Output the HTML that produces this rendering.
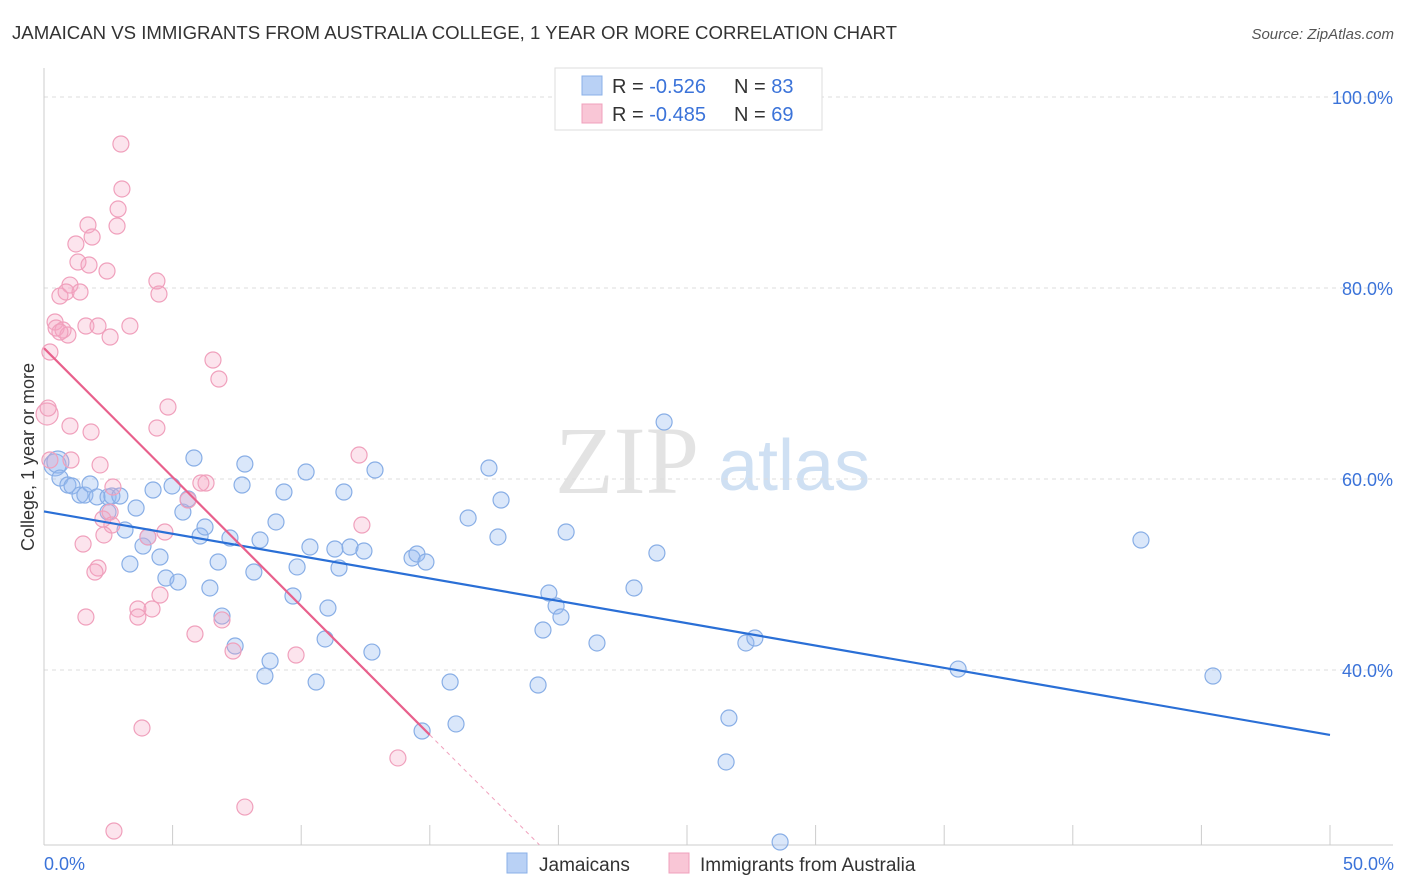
<!DOCTYPE html>
<html><head><meta charset="utf-8"><style>
body{margin:0;background:#fff;font-family:"Liberation Sans",sans-serif;}
svg{display:block}
</style></head><body>
<svg id="chart" width="1406" height="892" xmlns="http://www.w3.org/2000/svg">
<text x="12" y="39" font-size="18" fill="#333" textLength="885" lengthAdjust="spacingAndGlyphs">JAMAICAN VS IMMIGRANTS FROM AUSTRALIA COLLEGE, 1 YEAR OR MORE CORRELATION CHART</text>
<text x="1394" y="39" font-size="15" fill="#555" font-style="italic" text-anchor="end">Source: ZipAtlas.com</text>
<g>
<text x="555" y="493" font-size="96" font-family="Liberation Serif,serif" fill="#e3e3e3">ZIP</text>
<text x="718" y="490" font-size="72" fill="#cfe0f3">atlas</text>
</g>
<g id="grid"></g>
<line x1="44" y1="68" x2="44" y2="845" stroke="#ccc"/>
<line x1="44" y1="845" x2="1393" y2="845" stroke="#ccc"/>
<text transform="translate(34,457) rotate(-90)" font-size="18" fill="#333" text-anchor="middle">College, 1 year or more</text>
<text x="44" y="870" font-size="18" fill="#3b73d9">0.0%</text>
<text x="1394" y="870" font-size="18" fill="#3b73d9" text-anchor="end">50.0%</text>
<g id="pts"></g>
<g id="lines"></g>
<g>
<rect x="555" y="68" width="267" height="62" fill="#fff" stroke="#ddd"/>
<rect x="582" y="76" width="20" height="19" fill="#b9d1f5" stroke="#8ab0e8"/>
<rect x="582" y="104" width="20" height="19" fill="#f9c6d6" stroke="#f0a0bc"/>
<text x="612" y="93" font-size="20" fill="#333">R = <tspan fill="#3b73d9">-0.526</tspan><tspan x="734">N = </tspan><tspan fill="#3b73d9">83</tspan></text>
<text x="612" y="121" font-size="20" fill="#333">R = <tspan fill="#3b73d9">-0.485</tspan><tspan x="734">N = </tspan><tspan fill="#3b73d9">69</tspan></text>
</g>
<g>
<rect x="507" y="853" width="20" height="20" fill="#b9d1f5" stroke="#8ab0e8"/>
<text x="539" y="871" font-size="19" fill="#333">Jamaicans</text>
<rect x="669" y="853" width="20" height="20" fill="#f9c6d6" stroke="#f0a0bc"/>
<text x="700" y="871" font-size="19" fill="#333">Immigrants from Australia</text>
</g>
</svg>
<script>
const yTicks=[40,60,80,100];
const xTickVals=[0,5,10,15,20,25,30,35,40,45,50];
const blueLine=[56.6,33.2];
const pinkLine=[73.7,33.2];
const bluePx=[[55,465],[58,462],[60,478],[68,485],[72,486],[80,495],[85,495],[90,484],[97,497],[108,497],[112,496],[120,496],[108,512],[125,530],[130,564],[136,508],[143,546],[148,537],[153,490],[160,557],[166,578],[172,486],[178,582],[183,512],[188,499],[194,458],[200,536],[205,527],[210,588],[218,562],[222,616],[230,538],[235,646],[242,485],[245,464],[254,572],[260,540],[265,676],[270,661],[276,522],[284,492],[293,596],[297,567],[306,472],[310,547],[316,682],[325,639],[328,608],[335,549],[339,568],[344,492],[350,547],[364,551],[372,652],[375,470],[412,558],[417,554],[426,562],[422,731],[450,682],[456,724],[468,518],[489,468],[498,537],[501,500],[538,685],[543,630],[549,593],[556,606],[561,617],[566,532],[597,643],[634,588],[657,553],[664,422],[729,718],[726,762],[746,643],[755,638],[780,842],[958,669],[1141,540],[1213,676]];
const pinkPx=[[121,144],[122,189],[118,209],[117,226],[88,225],[92,237],[76,244],[78,262],[89,265],[107,271],[70,285],[60,296],[66,292],[80,292],[157,281],[159,294],[55,322],[56,328],[63,330],[68,335],[60,332],[86,326],[98,326],[110,337],[130,326],[50,352],[47,414],[213,360],[219,379],[168,407],[70,426],[157,428],[91,432],[50,460],[71,460],[100,465],[359,455],[206,483],[201,483],[188,500],[113,487],[103,519],[110,512],[112,525],[104,535],[165,532],[148,537],[83,544],[362,525],[98,568],[95,572],[138,609],[138,617],[152,609],[160,595],[222,620],[86,617],[195,634],[233,651],[296,655],[142,728],[398,758],[245,807],[114,831],[48,408]];
const blueX=bluePx.map(p=>+((p[0]-44)/25.72).toFixed(2));
const blueY=bluePx.map(p=>+(100-(p[1]-97)/9.55).toFixed(2));
const pinkX=pinkPx.map(p=>+((p[0]-44)/25.72).toFixed(2));
const pinkY=pinkPx.map(p=>+(100-(p[1]-97)/9.55).toFixed(2));
const X=v=>44+v*25.72, Y=v=>97+(100-v)*9.55;
const NS="http://www.w3.org/2000/svg";
const mk=(t,a,par)=>{const e=document.createElementNS(NS,t);for(const k in a)e.setAttribute(k,a[k]);document.getElementById(par).appendChild(e);return e;};
yTicks.forEach(v=>{
 const l=mk('line',{x1:44,x2:1393,y1:Y(v),y2:Y(v),stroke:'#ddd','stroke-dasharray':'4,4'},'grid');
 
 
 const t=mk('text',{x:1393,y:Y(v)+7,'font-size':18,fill:'#3b73d9','text-anchor':'end'},'grid');t.textContent=v.toFixed(1)+'%';
 
 
});
xTickVals.forEach(v=>{
 const l=mk('line',{x1:X(v),x2:X(v),y1:825,y2:845,stroke:'#ccc'},'grid');
 
 
});
blueX.forEach((x,i)=>{
 const c=mk('circle',{cx:X(x),cy:Y(blueY[i]),r:i<2?11:8,fill:'rgba(150,185,240,0.35)',stroke:'#88aee6','stroke-width':1.2},'pts');
 
 
});
pinkX.forEach((x,i)=>{
 const c=mk('circle',{cx:X(x),cy:Y(pinkY[i]),r:i==26?11:8,fill:'rgba(245,165,195,0.3)',stroke:'#f0a0bc','stroke-width':1.2},'pts');
 
 
});
let l=mk('line',{x1:X(0),y1:Y(blueLine[0]),x2:X(50),y2:Y(blueLine[1]),stroke:'#2a6fd6','stroke-width':2.2},'lines');


const ps=(pinkLine[1]-pinkLine[0])/15;
l=mk('line',{x1:X(0),y1:Y(pinkLine[0]),x2:X(15),y2:Y(pinkLine[1]),stroke:'#e8608c','stroke-width':2.2},'lines');


const xe=(21.7-pinkLine[0])/ps;
l=mk('line',{x1:X(15),y1:Y(pinkLine[1]),x2:X(xe),y2:Y(21.7),stroke:'#f0a0bc','stroke-width':1,'stroke-dasharray':'4,4'},'lines');


</script>
</body></html>
